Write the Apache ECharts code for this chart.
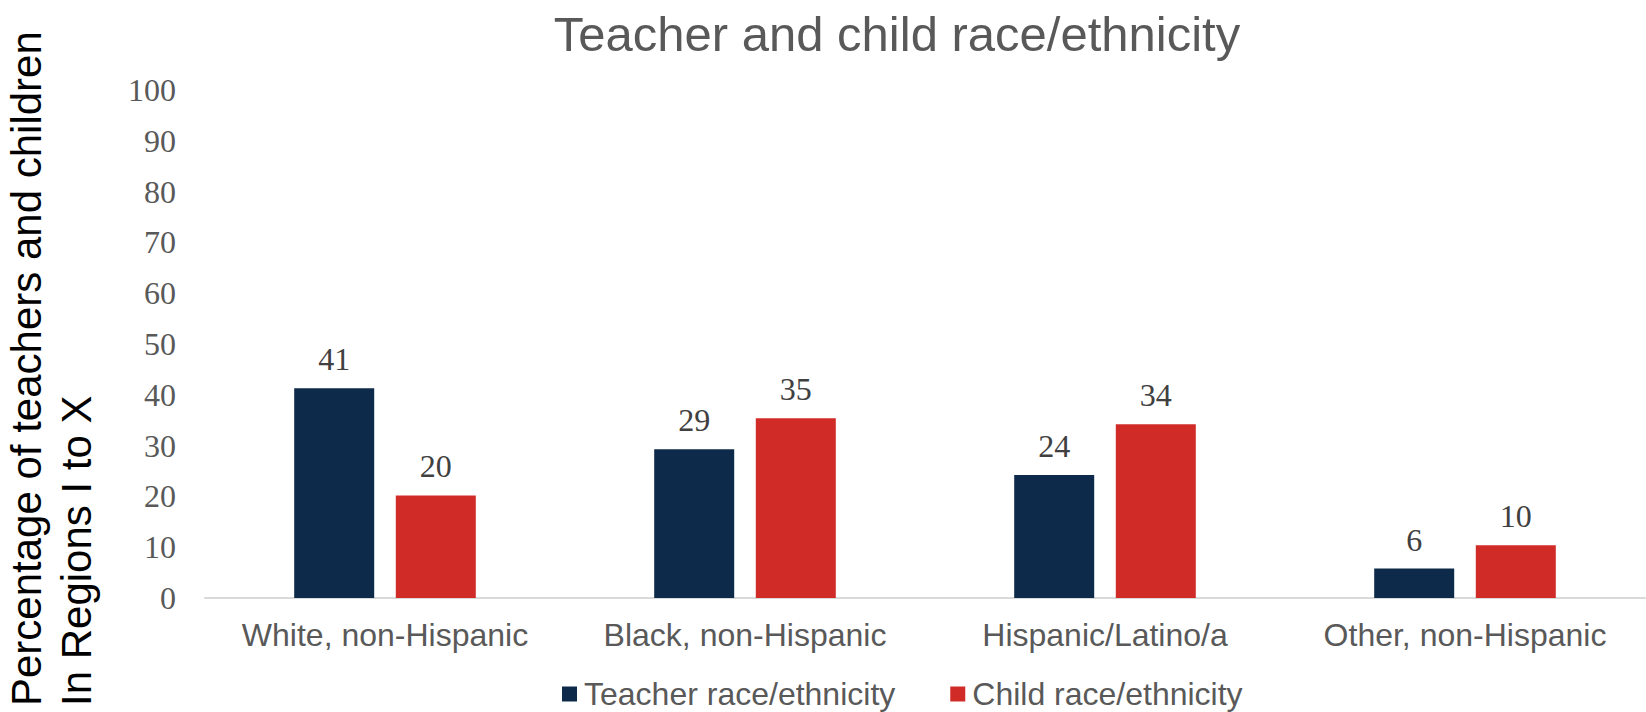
<!DOCTYPE html>
<html>
<head>
<meta charset="utf-8">
<script src="https://cdn.jsdelivr.net/npm/echarts@6/dist/echarts.min.js"></script>
<style>
  html, body { margin: 0; padding: 0; background: #ffffff; }
  #chart { width: 1646px; height: 712px; }
</style>
</head>
<body>
<div id="chart"></div>
<script>
const categories = ['White, non-Hispanic', 'Black, non-Hispanic', 'Hispanic/Latino/a', 'Other, non-Hispanic'];
const teacherValues = [41.3, 29.3, 24.2, 5.8];
const childValues = [20.2, 35.4, 34.2, 10.4];
const seriesNames = ['Teacher race/ethnicity', 'Child race/ethnicity'];
const yTicks = { min: 0, max: 100, interval: 10 };
const titleText = 'Teacher and child race/ethnicity';
const yAxisTitle = 'Percentage of teachers and children\nIn Regions I to X';

const sans = '"Liberation Sans", Arial, sans-serif';
const serif = '"Liberation Serif", "Times New Roman", serif';

const chart = echarts.init(document.getElementById('chart'), null, { renderer: 'svg' });

const labelStyle = {
  show: true,
  position: 'top',
  distance: 13,
  fontFamily: serif,
  fontSize: 32,
  color: '#404040',
  formatter: p => Math.round(p.value)
};

chart.setOption({
  animation: false,
  backgroundColor: '#ffffff',
  title: {
    text: titleText,
    left: 892,
    textAlign: 'center',
    top: 4,
    textStyle: { fontFamily: sans, fontWeight: 'normal', fontSize: 49, color: '#595959' }
  },
  legend: {
    data: seriesNames,
    left: 557,
    top: 673,
    itemWidth: 15,
    itemHeight: 15,
    itemGap: 55,
    icon: 'rect',
    textStyle: { fontFamily: sans, fontSize: 32, color: '#595959', padding: [0, 0, 0, 2] }
  },
  graphic: [{
    type: 'text',
    x: 1,
    y: 706,
    rotation: Math.PI / 2,
    style: {
      text: yAxisTitle,
      fontFamily: sans,
      fontSize: 42,
      lineHeight: 50,
      fill: '#000000',
      align: 'left',
      verticalAlign: 'top'
    }
  }],
  grid: { left: 205, right: 1, top: 90, bottom: 114, containLabel: false },
  xAxis: {
    type: 'category',
    data: categories,
    axisLine: { show: true, lineStyle: { color: '#D9D9D9', width: 2 } },
    axisTick: { show: false },
    axisLabel: { fontFamily: sans, fontSize: 32, color: '#595959', margin: 21, interval: 0 }
  },
  yAxis: {
    type: 'value',
    min: yTicks.min,
    max: yTicks.max,
    interval: yTicks.interval,
    axisLine: { show: false },
    axisTick: { show: false },
    splitLine: { show: false },
    axisLabel: { fontFamily: serif, fontSize: 32, color: '#595959', margin: 29 }
  },
  series: [
    {
      name: seriesNames[0],
      type: 'bar',
      data: teacherValues,
      barWidth: 80,
      barGap: '27%',
      itemStyle: { color: '#0E2A4A' },
      label: labelStyle
    },
    {
      name: seriesNames[1],
      type: 'bar',
      data: childValues,
      barWidth: 80,
      itemStyle: { color: '#D12B28' },
      label: labelStyle
    }
  ]
});
</script>
</body>
</html>
